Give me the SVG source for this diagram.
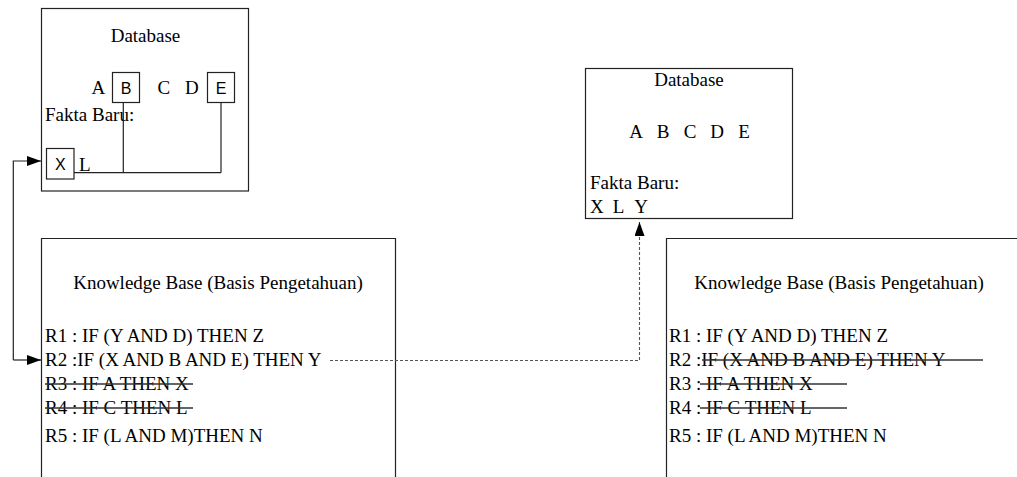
<svg xmlns="http://www.w3.org/2000/svg" width="1017" height="477" viewBox="0 0 1017 477">
<style>
.box{fill:none;stroke:#222;stroke-width:1.2}
.t{font-family:"Liberation Serif","Times New Roman",serif;font-size:19px;fill:#000}
.s{font-family:"Liberation Sans",Arial,sans-serif;font-size:16px;fill:#000}
.ln{fill:none;stroke:#222;stroke-width:1.2}
.strike{fill:none;stroke:#333;stroke-width:1.3}
.dash{fill:none;stroke:#555;stroke-width:1.1;stroke-dasharray:3 2}
</style>
<defs>
<marker id="ah" markerWidth="14" markerHeight="10" refX="14" refY="5" orient="auto" markerUnits="userSpaceOnUse">
<path d="M0,0 L14,5 L0,10 Z" fill="#000"/>
</marker>
</defs>
<g id="db-left">
<rect class="box" x="41.5" y="8.5" width="207" height="182.5"/>
<text class="t" x="145.5" y="42" text-anchor="middle">Database</text>
<text class="t" x="91.5" y="94">A</text>
<rect class="box" x="112.5" y="72.5" width="27" height="30"/>
<text class="s" x="126" y="94" text-anchor="middle">B</text>
<text class="t" x="157.5" y="94">C</text>
<text class="t" x="185" y="94">D</text>
<rect class="box" x="207.5" y="72.5" width="27" height="30"/>
<text class="s" x="221" y="94" text-anchor="middle">E</text>
<text class="t" x="45" y="121">Fakta Baru:</text>
<rect class="box" x="46.5" y="148.5" width="27.5" height="30.5"/>
<text class="s" x="60.3" y="170" text-anchor="middle">X</text>
<text class="t" x="79" y="171">L</text>
<path class="ln" d="M74,172.7 H221 M123.3,102.5 V172.7 M221,102.5 V172.7"/>
</g>
<g id="kb-left">
<path class="box" d="M41.5,480 V238.5 H395.5 V480"/>
<text class="t" x="218" y="289" text-anchor="middle">Knowledge Base (Basis Pengetahuan)</text>
<text class="t" x="45" y="342">R1 : IF (Y AND D) THEN Z</text>
<text class="t" x="45" y="366">R2 :IF (X AND B AND E) THEN Y</text>
<text class="t" x="45" y="390">R3 : IF A THEN X</text>
<text class="t" x="45" y="414">R4 : IF C THEN L</text>
<text class="t" x="45" y="442">R5 : IF (L AND M)THEN N</text>
<path class="strike" d="M45,384 H193 M45,408 H193"/>
</g>
<g id="db-right">
<rect class="box" x="585.5" y="68.5" width="207" height="150"/>
<text class="t" x="689" y="86" text-anchor="middle">Database</text>
<text class="t" x="636" y="137.5" text-anchor="middle">A</text>
<text class="t" x="663" y="137.5" text-anchor="middle">B</text>
<text class="t" x="690" y="137.5" text-anchor="middle">C</text>
<text class="t" x="717" y="137.5" text-anchor="middle">D</text>
<text class="t" x="744" y="137.5" text-anchor="middle">E</text>
<text class="t" x="590" y="189">Fakta Baru:</text>
<text class="t" x="590" y="213">X</text>
<text class="t" x="612.7" y="213">L</text>
<text class="t" x="634.3" y="213">Y</text>
</g>
<g id="kb-right">
<path class="box" d="M666.5,480 V238.5 H1020"/>
<text class="t" x="839" y="289" text-anchor="middle">Knowledge Base (Basis Pengetahuan)</text>
<text class="t" x="669" y="342">R1 : IF (Y AND D) THEN Z</text>
<text class="t" x="669" y="366">R2 :IF (X AND B AND E) THEN Y</text>
<text class="t" x="669" y="390">R3 : IF A THEN X</text>
<text class="t" x="669" y="414">R4 : IF C THEN L</text>
<text class="t" x="669" y="442">R5 : IF (L AND M)THEN N</text>
<path class="strike" d="M702,360 H983 M700,384 H847 M700,408 H847"/>
</g>
<g id="connectors">
<path class="ln" d="M13.3,360 V161 H41" marker-end="url(#ah)"/>
<path class="ln" d="M13.3,360 H41" marker-end="url(#ah)"/>
<path class="dash" d="M330,360.5 H639.5 V222" marker-end="url(#ah)"/>
</g>
</svg>
